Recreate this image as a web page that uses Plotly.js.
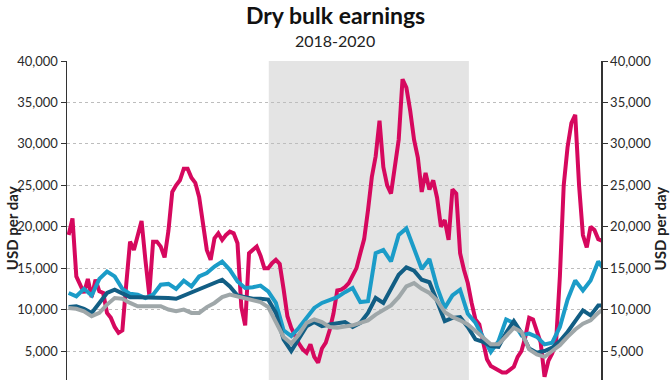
<!DOCTYPE html>
<html>
<head>
<meta charset="utf-8">
<script src="https://cdn.plot.ly/plotly-3.0.1.min.js"></script>
<style>
html,body{margin:0;padding:0;background:#fff;}
#chart{width:670px;height:380px;}
</style>
</head>
<body>
<div id="chart"></div>
<script>
// weekly series start
const firstWeek = '2018-01-01';

// Capesize (weekly), USD/day
const capesize = [
 19000, 21000, 14000, 13000, 12000, 13700, 11500, 13600, 12200, 12000,
 9600, 9000, 7900, 7200, 7500, 13000, 18200, 17200, 19200, 20700,
 16000, 11800, 18200, 18200, 17600, 16300, 19500, 24200, 25000, 25600,
 27000, 27000, 25900, 25300, 23600, 20400, 17200, 16000, 18600, 19200,
 18400, 19000, 19400, 19200, 18000, 10300, 8100, 16800, 17200, 17600,
 16500, 15000, 15000, 15600, 16000, 15500, 12500, 9200, 7800, 6800,
 5900, 5200, 4800, 5800, 4300, 3600, 5300, 6000, 7500, 9500,
 12300, 12400, 12700, 13200, 14200, 15000, 16800, 18500, 22000, 26000,
 28500, 32800, 27200, 25000, 24000, 27000, 30500, 37800, 36800, 34000,
 30500, 28300, 24200, 26500, 24500, 25600, 23500, 20000, 20800, 18400,
 24500, 24000, 16800, 14800, 13200, 10800, 8800, 8200, 6000, 4000,
 3200, 2900, 2700, 2400, 2400, 2700, 3100, 4300, 5000, 6700,
 9000, 8800, 7500, 6000, 1900, 3800, 4700, 6000, 14000, 25000,
 29600, 32500, 33500, 25000, 19000, 17500, 20000, 19600, 18500, 18300
];

// Panamax (fortnightly)
const panamax = [
 12000, 11600, 12500, 11700, 13700, 14600, 14000, 12500, 11900, 11800,
 11400, 11800, 13000, 13100, 12500, 13500, 12800, 14000, 14400, 15200,
 15800, 14800, 13400, 12600, 12700, 12900, 12200, 10800, 7500, 6800,
 7800, 9100, 10200, 10800, 11200, 11500, 12100, 12600, 10900, 11000,
 16800, 17200, 15800, 19000, 19800, 17400, 14900, 16100, 12700, 10200,
 11700, 12400, 9500, 8400, 6600, 4900, 6200, 8800, 8400, 6900,
 7100, 6700, 5800, 6000, 7900, 11200, 13500, 12300, 13500, 15800,
 14500
];

// Supramax (fortnightly)
const supramax = [
 10300, 10400, 10100, 9600, 10800, 12000, 12400, 12000, 11500, 11500,
 11500, 11400, 11500, 11400, 11300, 11700, 12000, 12400, 12800, 13300,
 13600, 12800, 11700, 11500, 11300, 11300, 11200, 9600, 6400, 5000,
 6600, 8000, 8500, 8000, 8200, 8400, 8500, 7900, 8400, 9600,
 11400, 10800, 12400, 14200, 15100, 14700, 13600, 13300, 11000, 8600,
 9000, 9100, 7900, 6400, 6100, 5600, 5500, 7200, 8600, 7200,
 5300, 4800, 5000, 5400, 6200, 7300, 8600, 9900, 9300, 10500,
 10500
];

// Handysize (fortnightly)
const handysize = [
 10200, 10100, 9800, 9200, 9600, 10600, 11400, 11300, 10800, 10400,
 10400, 10400, 10400, 10000, 9800, 10000, 9600, 9600, 10300, 10800,
 11500, 11800, 11600, 11400, 11100, 10900, 10300, 8500, 6700, 5900,
 7000, 8400, 8800, 8500, 7900, 7800, 7900, 8100, 8400, 8700,
 9400, 9900, 10500, 11500, 12800, 13200, 12500, 12000, 11100, 9700,
 9100, 8700, 8200, 7400, 6600, 5800, 5800, 6800, 7800, 7300,
 5200, 4600, 4300, 5000, 5700, 6700, 7600, 8300, 8700, 9600,
 10300
];

const yTickVals = [5000, 10000, 15000, 20000, 25000, 30000, 35000, 40000];
const yTickText = ['5,000', '10,000', '15,000', '20,000', '25,000', '30,000', '35,000', '40,000'];
const xRange = ['2017-12-29', '2020-08-29'];
const yRange = [1500, 40000];
const shadeStart = '2019-01-01';
const shadeEnd = '2020-01-01';

function weekDates(n, stepWeeks) {
  const out = [];
  const d0 = new Date(firstWeek + 'T00:00:00Z').getTime();
  for (let i = 0; i < n; i++) {
    out.push(new Date(d0 + i * stepWeeks * 7 * 86400000).toISOString().slice(0, 10));
  }
  return out;
}
const weekly = weekDates(capesize.length, 1);
const fortnightly = weekDates(panamax.length, 2);

const lw = 4;
const traces = [
  {x: weekly, y: capesize, name: 'Capesize', type: 'scatter', mode: 'lines', line: {color: '#D6085E', width: lw}},
  {x: fortnightly, y: panamax, name: 'Panamax', type: 'scatter', mode: 'lines', line: {color: '#1B9CC8', width: lw}},
  {x: fortnightly, y: supramax, name: 'Supramax', type: 'scatter', mode: 'lines', line: {color: '#125E84', width: lw}},
  {x: fortnightly, y: handysize, name: 'Handysize', type: 'scatter', mode: 'lines', line: {color: '#9FA7A9', width: lw}, yaxis: 'y2'}
];

const axisCommon = {
  range: yRange, tickvals: yTickVals, ticktext: yTickText,
  ticks: 'outside', ticklen: 5, tickwidth: 1, tickcolor: '#333',
  showline: true, linecolor: '#333', linewidth: 1.5,
  zeroline: false, tickfont: {family: 'Lato, sans-serif', size: 13, color: '#2a2a2a'},
  fixedrange: true
};

const layout = {
  width: 670, height: 380,
  margin: {l: 67, r: 69, t: 61, b: 0, pad: 0},
  paper_bgcolor: '#ffffff', plot_bgcolor: 'rgba(0,0,0,0)',
  font: {family: 'Lato, sans-serif', color: '#333', size: 13},
  showlegend: false,
  xaxis: {type: 'date', range: xRange, showgrid: false, showticklabels: false, ticks: '', showline: false, zeroline: false},
  yaxis: Object.assign({}, axisCommon, {side: 'left', showgrid: true, gridcolor: '#bdbdbd', griddash: 'dot', gridwidth: 1}),
  yaxis2: Object.assign({}, axisCommon, {side: 'right', overlaying: 'y', showgrid: false}),
  shapes: [{type: 'rect', xref: 'x', yref: 'paper', x0: shadeStart, x1: shadeEnd, y0: 0, y1: 1,
            fillcolor: '#e4e4e4', line: {width: 0}, layer: 'below'}],
  annotations: [
    {text: '<b>Dry bulk earnings</b>', xref: 'paper', yref: 'paper', x: 0.502, y: 1.144, xanchor: 'center', yanchor: 'middle',
     showarrow: false, font: {family: 'Lato, sans-serif', size: 23, color: '#111'}},
    {text: '2018-2020', xref: 'paper', yref: 'paper', x: 0.502, y: 1.063, xanchor: 'center', yanchor: 'middle',
     showarrow: false, font: {family: 'Lato, sans-serif', size: 16, color: '#222'}},
    {text: '<b>USD per day</b>', xref: 'paper', yref: 'paper', x: -0.103, y: 0.476, xanchor: 'center', yanchor: 'middle',
     textangle: -90, showarrow: false, font: {family: 'Lato, sans-serif', size: 15, color: '#222'}},
    {text: '<b>USD per day</b>', xref: 'paper', yref: 'paper', x: 1.111, y: 0.476, xanchor: 'center', yanchor: 'middle',
     textangle: -90, showarrow: false, font: {family: 'Lato, sans-serif', size: 15, color: '#222'}}
  ]
};

Plotly.newPlot('chart', traces, layout, {displayModeBar: false, staticPlot: true});
</script>
</body>
</html>
